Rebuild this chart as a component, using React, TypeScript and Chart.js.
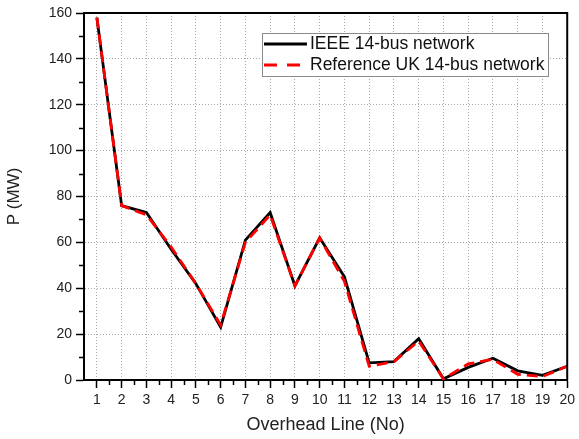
import React, { useEffect, useRef } from "react";
import { Chart, registerables } from "chart.js";

Chart.register(...registerables);

const lineNumbers = [1, 2, 3, 4, 5, 6, 7, 8, 9, 10, 11, 12, 13, 14, 15, 16, 17, 18, 19, 20];
const ieeeValues = [158, 76, 73, 57, 42, 23, 61, 73, 41, 62, 45, 7.5, 8, 18, 0.5, 5.5, 9.5, 4, 2, 6];
const ukValues = [158, 76, 72, 58, 42, 24, 60, 72, 41, 62, 43, 6, 8, 17, 0.5, 7, 9, 2.5, 1.5, 6];
const xTicks = [1, 2, 3, 4, 5, 6, 7, 8, 9, 10, 11, 12, 13, 14, 15, 16, 17, 18, 19, 20];
const xMinorTicks = [1.5, 2.5, 3.5, 4.5, 5.5, 6.5, 7.5, 8.5, 9.5, 10.5, 11.5, 12.5, 13.5, 14.5, 15.5, 16.5, 17.5, 18.5, 19.5];
const yTicks = [0, 20, 40, 60, 80, 100, 120, 140, 160];
const yMinorTicks = [10, 30, 50, 70, 90, 110, 130, 150];
const seriesLabels = ["IEEE 14-bus network", "Reference UK 14-bus network"];
const xTitle = "Overhead Line (No)";
const yTitle = "P (MW)";

const FONT = "'Liberation Sans', Arial, Helvetica, sans-serif";

const framePlugin = {
  id: "frameAndLegend",
  afterDraw(chart: any) {
    const { ctx, chartArea } = chart;
    const { left, right, top, bottom } = chartArea;
    const xs = chart.scales.x;
    const ys = chart.scales.y;
    ctx.save();
    ctx.strokeStyle = "#000";
    ctx.lineWidth = 2;
    ctx.setLineDash([]);
    ctx.beginPath();
    ctx.moveTo(left, top);
    ctx.lineTo(right, top);
    ctx.lineTo(right, bottom);
    ctx.stroke();
    ctx.lineWidth = 1.5;
    ctx.beginPath();
    xMinorTicks.forEach((v) => {
      const px = Math.round(xs.getPixelForValue(v)) + 0.5;
      ctx.moveTo(px, bottom);
      ctx.lineTo(px, bottom + 5);
    });
    yMinorTicks.forEach((v) => {
      const py = Math.round(ys.getPixelForValue(v)) + 0.5;
      ctx.moveTo(left, py);
      ctx.lineTo(left - 5, py);
    });
    ctx.stroke();

    const bx = 262.5, by = 33.5, bw = 286, bh = 43;
    ctx.fillStyle = "#fff";
    ctx.fillRect(bx, by, bw, bh);
    ctx.strokeStyle = "#8a8a8a";
    ctx.lineWidth = 1;
    ctx.strokeRect(bx, by, bw, bh);

    const y1 = 44, y2 = 65;
    ctx.lineWidth = 3;
    ctx.strokeStyle = "#000";
    ctx.beginPath();
    ctx.moveTo(264, y1);
    ctx.lineTo(307, y1);
    ctx.stroke();
    ctx.strokeStyle = "#ff0000";
    ctx.setLineDash([13, 10]);
    ctx.beginPath();
    ctx.moveTo(264, y2);
    ctx.lineTo(307, y2);
    ctx.stroke();
    ctx.setLineDash([]);

    ctx.fillStyle = "#111";
    ctx.font = `17.5px ${FONT}`;
    ctx.textAlign = "left";
    ctx.textBaseline = "middle";
    ctx.fillText(seriesLabels[0], 310, y1);
    ctx.fillText(seriesLabels[1], 310, y2);
    ctx.restore();
  },
};

export default function App() {
  const ref = useRef<HTMLCanvasElement | null>(null);

  useEffect(() => {
    if (!ref.current) return;
    const grid = {
      color: "#a8a8a8",
      lineWidth: 1,
      drawTicks: true,
      tickLength: 8,
      tickColor: "#000",
      tickWidth: 1.5,
      tickBorderDash: [],
    };
    const chart = new Chart(ref.current, {
      type: "line",
      data: {
        datasets: [
          {
            label: seriesLabels[0],
            data: lineNumbers.map((x, i) => ({ x, y: ieeeValues[i] })),
            borderColor: "#000",
            borderWidth: 2.8,
            pointRadius: 0,
            tension: 0,
            order: 2,
          },
          {
            label: seriesLabels[1],
            data: lineNumbers.map((x, i) => ({ x, y: ukValues[i] })),
            borderColor: "#ff0000",
            borderWidth: 2.8,
            borderDash: [11, 6],
            pointRadius: 0,
            tension: 0,
            order: 1,
          },
        ],
      },
      options: {
        animation: false,
        responsive: false,
        maintainAspectRatio: false,
        layout: { padding: { top: 13, right: 7, left: 0, bottom: 0 } },
        plugins: { legend: { display: false }, tooltip: { enabled: false } },
        scales: {
          x: {
            type: "linear",
            min: 0.48,
            max: 20,
            afterBuildTicks: (scale: any) => {
              scale.ticks = xTicks.map((v) => ({ value: v }));
            },
            afterFit: (scale: any) => {
              scale.height = 59;
            },
            ticks: {
              autoSkip: false,
              maxRotation: 0,
              padding: 4,
              color: "#222",
              font: { family: FONT, size: 14 },
            },
            grid,
            border: { color: "#000", width: 2, dash: [1, 2] },
            title: {
              display: true,
              text: xTitle,
              color: "#222",
              font: { family: FONT, size: 18 },
              padding: { top: 4, bottom: 3 },
            },
          },
          y: {
            type: "linear",
            min: 0,
            max: 160,
            afterBuildTicks: (scale: any) => {
              scale.ticks = yTicks.map((v) => ({ value: v }));
            },
            afterFit: (scale: any) => {
              scale.width = 84;
            },
            ticks: {
              padding: 4,
              color: "#222",
              font: { family: FONT, size: 14 },
            },
            grid,
            border: { color: "#000", width: 2, dash: [1, 2] },
            title: {
              display: true,
              text: yTitle,
              color: "#222",
              font: { family: FONT, size: 17 },
              padding: { top: 4, bottom: 4 },
            },
          },
        },
      },
      plugins: [framePlugin],
    });
    return () => chart.destroy();
  }, []);

  return (
    <div style={{ position: "fixed", left: 0, top: 0, width: 579, height: 439, background: "#fff" }}>
      <canvas ref={ref} width={579} height={439} style={{ width: 579, height: 439, display: "block" }} />
    </div>
  );
}
